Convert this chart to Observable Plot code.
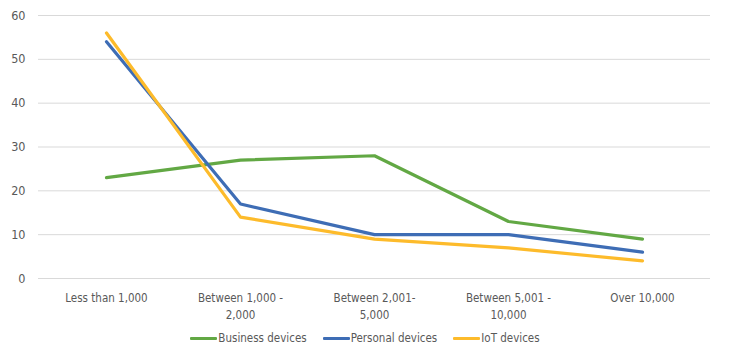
<!DOCTYPE html>
<html>
<head>
<meta charset="utf-8">
<script src="https://cdn.jsdelivr.net/npm/d3@7"></script>
<script src="https://cdn.jsdelivr.net/npm/@observablehq/plot@0.6"></script>
<style>
  body { margin: 0; background: #fff; }
  #wrap { width: 730px; height: 354px; position: relative; font-family: "DejaVu Sans Condensed", "Liberation Sans", Arial, sans-serif; }
  #legend { position: absolute; top: 331px; left: 0; width: 730px; display: flex; justify-content: center; gap: 16px; font-size: 11.5px; color: #595959; }
  .item { display: flex; align-items: center; }
  .sw { width: 27px; height: 3px; margin-right: 1px; border-radius: 1px; }
</style>
</head>
<body>
<div id="wrap"><div id="chart"></div><div id="legend"></div></div>
<script>
const categories = ["Less than 1,000", "Between 1,000 - 2,000", "Between 2,001-5,000", "Between 5,001 - 10,000", "Over 10,000"];
const tickLabels = ["Less than 1,000", "Between 1,000 -\n2,000", "Between 2,001-\n5,000", "Between 5,001 -\n10,000", "Over 10,000"];
const seriesNames = ["Business devices", "Personal devices", "IoT devices"];
const businessValues = [23, 27, 28, 13, 9];
const personalValues = [54, 17, 10, 10, 6];
const iotValues = [56, 14, 9, 7, 4];
const colors = ["#62a844", "#3e6db5", "#fdbb2b"];
const yTicks = [0, 10, 20, 30, 40, 50, 60];

const allValues = [businessValues, personalValues, iotValues];
const data = [];
seriesNames.forEach((s, si) => categories.forEach((c, ci) => data.push({series: s, cat: c, value: allValues[si][ci]})));

const font = '"DejaVu Sans Condensed", "Liberation Sans", Arial, sans-serif';
const chart = Plot.plot({
  width: 730,
  height: 326,
  marginTop: 15,
  marginBottom: 48,
  marginLeft: 38,
  marginRight: 20,
  style: {fontFamily: font, fontSize: "12.5px", color: "#595959", background: "#fff"},
  x: {type: "point", domain: categories, padding: 0.5},
  y: {domain: [0, 60]},
  color: {domain: seriesNames, range: colors},
  marks: [
    Plot.gridY(yTicks, {stroke: "#d9d9d9", strokeOpacity: 1, strokeWidth: 1}),
    Plot.axisY(yTicks, {tickSize: 0, tickPadding: 13, label: null, fill: "#595959", fontSize: 12.5}),
    Plot.axisX({tickSize: 0, tickPadding: 11, label: null, fill: "#595959", fontSize: 11.5, lineHeight: 1.5,
      tickFormat: d => tickLabels[categories.indexOf(d)]}),
    Plot.line(data, {x: "cat", y: "value", z: "series", stroke: "series", strokeWidth: 3.2, strokeLinejoin: "round", strokeLinecap: "round"})
  ]
});
document.getElementById("chart").appendChild(chart);

const legend = document.getElementById("legend");
seriesNames.forEach((s, i) => {
  const it = document.createElement("div");
  it.className = "item";
  const sw = document.createElement("div");
  sw.className = "sw";
  sw.style.background = colors[i];
  const t = document.createElement("span");
  t.textContent = s;
  it.appendChild(sw);
  it.appendChild(t);
  legend.appendChild(it);
});
</script>
</body>
</html>
